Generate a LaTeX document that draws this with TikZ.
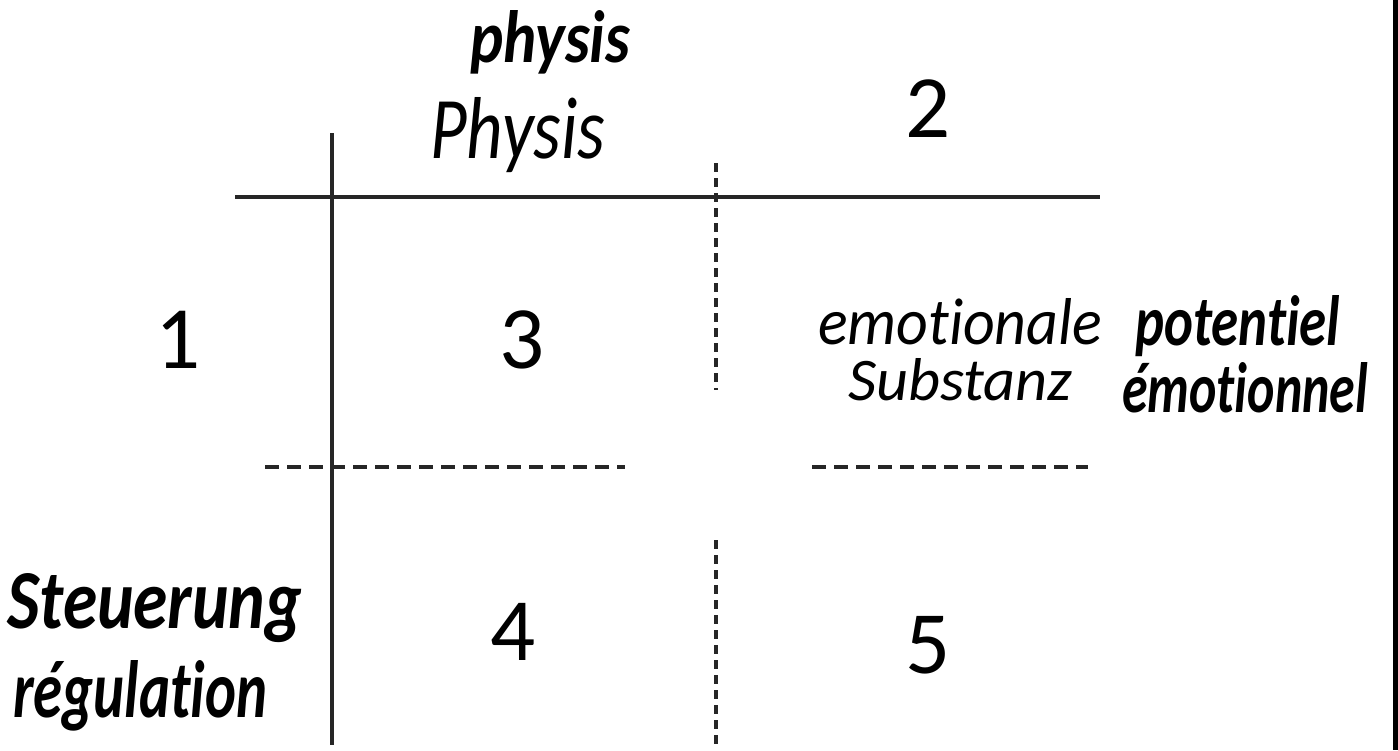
\documentclass[tikz,border=0pt]{standalone}
\usepackage{fontspec}
\setmainfont{Carlito}
\newfontfamily\handthin[Ligatures={NoCommon,NoContextual}]{Carlito}
\newfontfamily\handbold[Ligatures={NoCommon,NoContextual}]{Carlito}
\tikzset{
  solidline/.style={line width=4pt, black!85},
  vdash/.style={line width=3.5pt, black!85, dash pattern=on 9pt off 6pt},
  hdash/.style={line width=3.5pt, black!85, dash pattern=on 14pt off 8pt},
  digit/.style={inner sep=0pt, anchor=base, font=\fontsize{89}{100}\selectfont},
  htext/.style={inner sep=0pt, anchor=base west},
}
\newcommand{\thinw}[3]{\resizebox{#1pt}{#2pt}{\handthin\itshape #3}}
\newcommand{\boldw}[3]{\resizebox{#1pt}{#2pt}{\handbold\bfseries\itshape #3}}
\begin{document}
\begin{tikzpicture}[x=1pt,y=-1pt]
\useasboundingbox (0,0) rectangle (1398,750);
% lines endpoints
\coordinate (hL) at (235,197); \coordinate (hR) at (1100,197);
\coordinate (vT) at (332,133); \coordinate (vB) at (332,745);
\coordinate (dvT1) at (716,163); \coordinate (dvB1) at (716,390);
\coordinate (dvT2) at (716,540); \coordinate (dvB2) at (716,745);
\coordinate (dhL1) at (265,467); \coordinate (dhR1) at (625,467);
\coordinate (dhL2) at (812,467); \coordinate (dhR2) at (1088,467);
\coordinate (bT) at (1395.5,0); \coordinate (bB) at (1395.5,750);
\draw[solidline] (hL) -- (hR);
\draw[solidline] (vT) -- (vB);
\draw[vdash] (dvT1) -- (dvB1);
\draw[vdash] (dvT2) -- (dvB2);
\draw[hdash] (dhL1) -- (dhR1);
\draw[hdash] (dhL2) -- (dhR2);
\draw[line width=5pt] (bT) -- (bB);
% digits
\node[digit] (n1) at (178,368) {1};
\node[digit] (n2) at (928,137) {2};
\node[digit] (n3) at (522,368) {3};
\node[digit] (n4) at (513,660) {4};
\node[digit] (n5) at (928,673) {5};
% handwritten labels
\node[htext] (physA) at (470,62) {\boldw{160}{52}{physis}};
\node[htext] (physB) at (430,158) {\thinw{175}{61}{Physis}};
\node[htext] (emo1) at (818,344) {\thinw{284}{46}{emotionale}};
\node[htext] (emo2) at (848,400) {\thinw{224}{42}{Substanz}};
\node[htext] (pot1) at (1135,345) {\boldw{205}{50}{potentiel}};
\node[htext] (pot2) at (1122,412) {\boldw{246}{50}{émotionnel}};
\node[htext] (st1) at (7,628) {\boldw{295}{55}{Steuerung}};
\node[htext] (st2) at (13,717) {\boldw{254}{57}{régulation}};
\end{tikzpicture}
\end{document}
